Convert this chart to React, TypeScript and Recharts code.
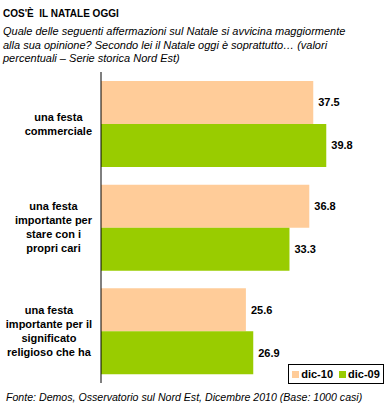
import { Bar, BarChart, LabelList, XAxis, YAxis } from "recharts";

const categories = [
  ["una festa", "commerciale"],
  ["una festa", "importante per", "stare con i", "propri cari"],
  ["una festa", "importante per il", "significato", "religioso che ha"],
];
const dic10 = [37.5, 36.8, 25.6];
const dic09 = [39.8, 33.3, 26.9];

const data = categories.map((lines, i) => ({
  name: lines.join(" "),
  dic10: dic10[i],
  dic09: dic09[i],
}));

const FONT = "Arial, 'Liberation Sans', sans-serif";
const ORANGE = "#FFCC99";
const GREEN = "#99CC00";

let ctx: CanvasRenderingContext2D | null = null;
function measure(text: string, font: string) {
  if (!ctx) ctx = document.createElement("canvas").getContext("2d");
  if (!ctx) return text.length * 6;
  ctx.font = font;
  return ctx.measureText(text).width;
}

function CategoryTick(props: any) {
  const { y, index } = props;
  const lines = categories[index] ?? [];
  const font = `bold 11px ${FONT}`;
  const w = Math.max(...lines.map((l) => measure(l, font)));
  const cx = 92 - w / 2;
  const lh = 14;
  const y0 = y - ((lines.length - 1) * lh) / 2;
  return (
    <text
      x={cx}
      y={y0}
      textAnchor="middle"
      fontFamily={FONT}
      fontSize={11}
      fontWeight="bold"
      fill="#000"
    >
      {lines.map((l, i) => (
        <tspan key={i} x={cx} y={y0 + i * lh} dy="0.35em">
          {l}
        </tspan>
      ))}
    </text>
  );
}

const fmt = (v: any) => Number(v).toFixed(1);

export default function App() {
  return (
    <div
      style={{
        position: "absolute",
        left: 0,
        top: 0,
        width: 389,
        height: 411,
        background: "#fff",
        fontFamily: FONT,
        color: "#000",
      }}
    >
      <div
        style={{
          position: "absolute",
          left: 3,
          top: 8,
          fontSize: 10,
          fontWeight: "bold",
          whiteSpace: "nowrap",
        }}
      >
        COS'È&nbsp; IL NATALE OGGI
      </div>
      <div
        style={{
          position: "absolute",
          left: 3,
          top: 25,
          fontSize: 11,
          fontStyle: "italic",
          lineHeight: "13.5px",
          whiteSpace: "nowrap",
        }}
      >
        Quale delle seguenti affermazioni sul Natale si avvicina maggiormente
        <br />
        alla sua opinione? Secondo lei il Natale oggi è soprattutto… (valori
        <br />
        percentuali – Serie storica Nord Est)
      </div>
      <div style={{ position: "absolute", left: 0, top: 0 }}>
        <BarChart
          width={389}
          height={411}
          data={data}
          layout="vertical"
          margin={{ top: 72, right: 5, bottom: 28, left: 0 }}
          barCategoryGap="8.7%"
          barGap={0}
        >
          <XAxis type="number" domain={[0, 50]} hide />
          <YAxis
            type="category"
            dataKey="name"
            width={101}
            axisLine={{ stroke: "#000", strokeWidth: 1 }}
            tickLine={false}
            tick={<CategoryTick />}
            interval={0}
          />
          <Bar dataKey="dic10" fill={ORANGE} isAnimationActive={false}>
            <LabelList
              dataKey="dic10"
              position="right"
              offset={5}
              formatter={fmt}
              style={{ fontFamily: FONT, fontSize: 11, fontWeight: "bold", fill: "#000" }}
            />
          </Bar>
          <Bar dataKey="dic09" fill={GREEN} isAnimationActive={false}>
            <LabelList
              dataKey="dic09"
              position="right"
              offset={5}
              formatter={fmt}
              style={{ fontFamily: FONT, fontSize: 11, fontWeight: "bold", fill: "#000" }}
            />
          </Bar>
        </BarChart>
      </div>
      <div
        style={{
          position: "absolute",
          left: 288,
          top: 364,
          width: 96,
          height: 20,
          border: "1px solid #000",
          boxSizing: "border-box",
          display: "flex",
          alignItems: "center",
          justifyContent: "center",
          gap: 6,
          fontSize: 11,
          fontWeight: "bold",
          background: "#fff",
        }}
      >
        <span style={{ display: "flex", alignItems: "center", gap: 2 }}>
          <span style={{ width: 7, height: 7, background: ORANGE }} />
          dic-10
        </span>
        <span style={{ display: "flex", alignItems: "center", gap: 2 }}>
          <span style={{ width: 7, height: 7, background: GREEN }} />
          dic-09
        </span>
      </div>
      <div
        style={{
          position: "absolute",
          left: 6,
          top: 391,
          fontSize: 10.6,
          fontStyle: "italic",
          whiteSpace: "nowrap",
        }}
      >
        Fonte: Demos, Osservatorio sul Nord Est, Dicembre 2010 (Base: 1000 casi)
      </div>
    </div>
  );
}
